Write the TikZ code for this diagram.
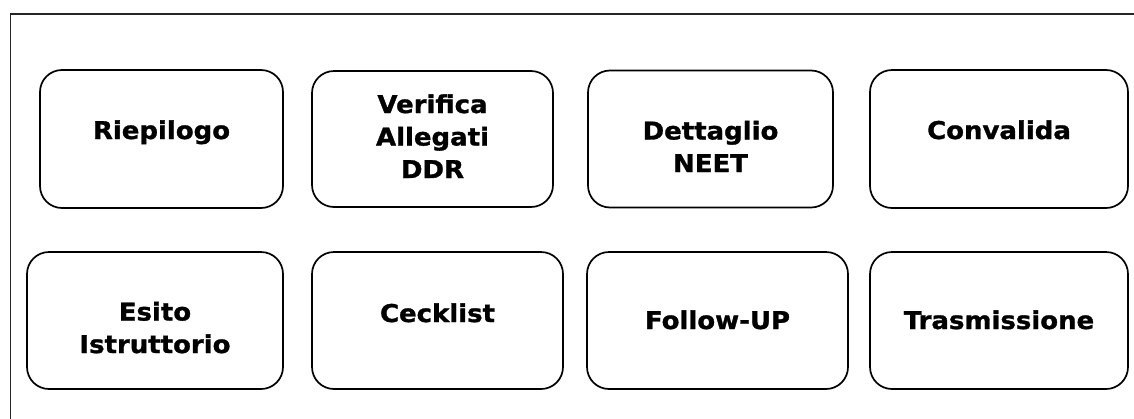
\documentclass[tikz,border=0pt]{standalone}
\usepackage{fontspec}
\newfontfamily\boxfont[FakeStretch=1.06,FakeBold=1.2]{DejaVu Sans Bold}
\tikzset{
  frame/.style={draw=black!85, line width=1.5pt},
  stepbox/.style={draw=black, line width=1.7pt, rounded corners=22pt},
  lbl/.style={font=\boxfont\fontsize{24.5}{32.5}\selectfont, align=center, inner sep=0pt, anchor=base}
}
\begin{document}
\begin{tikzpicture}[x=1pt,y=-1pt]
\useasboundingbox (0,0) rectangle (1134,418);
\draw[frame] (10.5,420) -- (10.5,14) -- (1136,14);
% row 1
\node[stepbox, minimum width=243pt, minimum height=138pt] (b1) at (161.5,139) {};
\node[stepbox, minimum width=241pt, minimum height=136pt] (b2) at (432.5,139) {};
\node[stepbox, minimum width=245pt, minimum height=137pt] (b3) at (710.5,139) {};
\node[stepbox, minimum width=258pt, minimum height=138pt] (b4) at (999,139) {};
% row 2
\node[stepbox, minimum width=256pt, minimum height=137pt] (b5) at (155,320.5) {};
\node[stepbox, minimum width=251pt, minimum height=137pt] (b6) at (437.5,320.5) {};
\node[stepbox, minimum width=261pt, minimum height=137pt] (b7) at (717.5,320.5) {};
\node[stepbox, minimum width=258pt, minimum height=137pt] (b8) at (999,320.5) {};
% labels (base anchor = baseline of the last line)
\node[lbl] (t1) at (161.5,139) {Riepilogo};
\node[lbl] (t2) at (432.5,178) {Verifica\\Allegati\\DDR};
\node[lbl] (t3) at (710.5,172) {Dettaglio\\NEET};
\node[lbl] (t4) at (999,139) {Convalida};
\node[lbl] (t5) at (155,353) {Esito\\Istruttorio};
\node[lbl] (t6) at (437.5,322) {Cecklist};
\node[lbl] (t7) at (717.5,329) {Follow-UP};
\node[lbl] (t8) at (999,329) {Trasmissione};
\end{tikzpicture}
\end{document}
